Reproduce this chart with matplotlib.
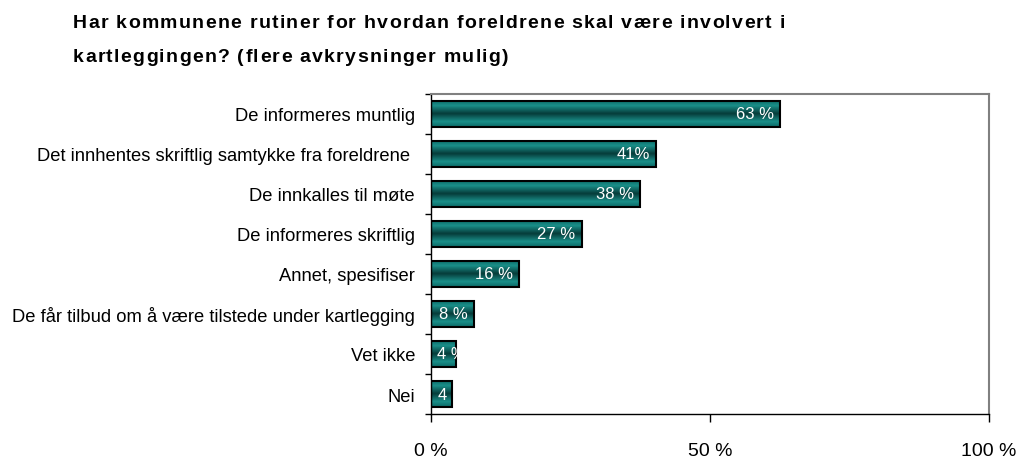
import numpy as np
import matplotlib
matplotlib.use("Agg")
import matplotlib.pyplot as plt
from matplotlib.colors import LinearSegmentedColormap

# Andel kommuner per svaralternativ (%)
kategorier = [
    "De informeres muntlig",
    "Det innhentes skriftlig samtykke fra foreldrene ",
    "De innkalles til møte",
    "De informeres skriftlig",
    "Annet, spesifiser",
    "De får tilbud om å være tilstede under kartlegging",
    "Vet ikke",
    "Nei",
]
verdier = [62.6, 40.4, 37.5, 27.0, 15.8, 7.7, 4.5, 3.8]
etiketter = ["63 %", "41%", "38 %", "27 %", "16 %", "8 %", "4 %", "4"]
xticks = [0, 50, 100]
xtick_labels = ["0 %", "50 %", "100 %"]
tittel = ["Har kommunene rutiner for hvordan foreldrene skal være involvert i",
          "kartleggingen? (flere avkrysninger mulig)"]

plt.rcParams["font.family"] = ["Liberation Sans", "DejaVu Sans"]

fig = plt.figure(figsize=(10.29, 4.64), dpi=100)
ax = fig.add_axes([0.4189, 0.1056, 0.5422, 0.6897])

# sylinderskygge på søylene
cmap = LinearSegmentedColormap.from_list(
    "teal", [(0.0, "#0c6a67"), (0.2, "#1a8f89"), (0.5, "#063b39"),
             (0.8, "#1a8f89"), (1.0, "#0c6a67")])
grad = np.linspace(0, 1, 64).reshape(-1, 1)

y = np.arange(len(kategorier))
h = 0.65
bars = ax.barh(y, verdier, height=h, color="none", edgecolor="black", linewidth=1.5, zorder=3)
for b, v, yy in zip(bars, verdier, y):
    im = ax.imshow(grad, extent=[0, v, yy + h / 2, yy - h / 2], aspect="auto",
                   cmap=cmap, zorder=2, interpolation="bilinear")
    im.set_clip_path(b)

for b, v, yy, lab in zip(bars, verdier, y, etiketter):
    if v > 7:
        t = ax.text(v - 1.2, yy, lab, ha="right", va="center", color="white",
                    fontsize=12, zorder=4)
    else:
        t = ax.text(1.1, yy, lab, ha="left", va="center", color="white",
                    fontsize=12, zorder=4)
    t.set_clip_path(b)

ax.set_xlim(0, 100)
ax.set_ylim(len(kategorier) - 0.5, -0.5)
ax.set_xticks(xticks)
ax.set_xticklabels(xtick_labels, fontsize=14)
ax.set_yticks(y)
ax.set_yticklabels(kategorier, fontsize=13.2)
ax.set_yticks(np.arange(len(kategorier) + 1) - 0.5, minor=True)
ax.tick_params(axis="y", which="major", length=0, pad=11.5)
ax.tick_params(axis="y", which="minor", length=4.5, width=1, direction="out")
ax.tick_params(axis="x", length=6, width=1, pad=14)

for s in ["left", "bottom"]:
    ax.spines[s].set_color("black")
    ax.spines[s].set_linewidth(1)
for s in ["top", "right"]:
    ax.spines[s].set_color("#808080")
    ax.spines[s].set_linewidth(1.5)

# tittel med litt ekstra bokstavavstand (som i originalen)
renderer = fig.canvas.get_renderer()
fs_tittel = 14
sperring = 1.3  # px mellom tegn


def bredde(s):
    tmp = fig.text(0, 0, s, fontsize=fs_tittel, fontweight="bold")
    w = tmp.get_window_extent(renderer).width
    tmp.remove()
    return w


mellomrom = bredde("a a") - bredde("aa")
for i, linje in enumerate(tittel):
    x_px = 73.0
    y_px = 464 - 28 - i * 33.5
    for ch in linje:
        if ch == " ":
            x_px += mellomrom + sperring
            continue
        t = fig.text(x_px / 1029, y_px / 464, ch, ha="left", va="baseline",
                     fontsize=fs_tittel, fontweight="bold")
        x_px += t.get_window_extent(renderer).width + sperring

plt.savefig("out.png", dpi=100)
